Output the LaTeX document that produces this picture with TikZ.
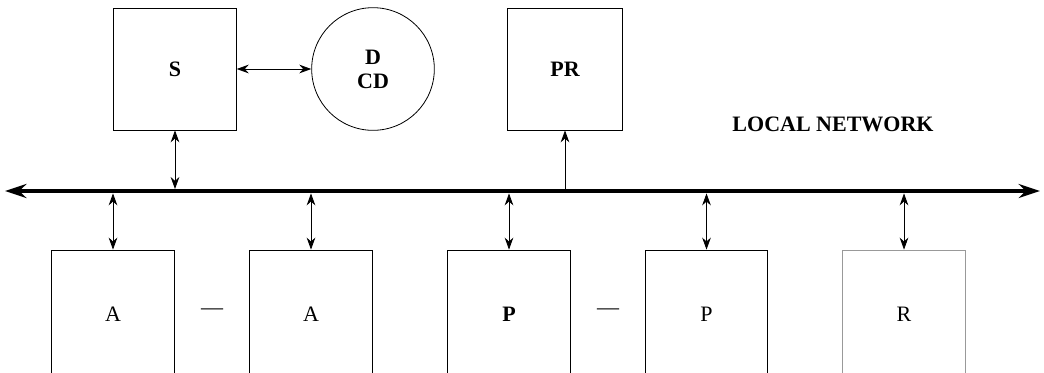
\documentclass[tikz,border=0pt]{standalone}
\usepackage{fontspec}
\setmainfont{Liberation Serif}
\usetikzlibrary{arrows.meta}
\begin{document}
\begin{tikzpicture}[x=0.75pt,y=-0.75pt,
  lbl/.style={font=\fontsize{16.5}{19}\selectfont},
  blbl/.style={font=\fontsize{16.5}{19}\selectfont\bfseries},
  box/.style={draw, line width=0.6pt, inner sep=0pt, minimum width=92pt, minimum height=91.5pt, lbl},
  bbox/.style={draw, line width=0.6pt, inner sep=0pt, minimum width=92pt, minimum height=96pt, lbl},
  dbl/.style={line width=0.6pt, {Stealth[length=9pt,width=6.5pt]}-{Stealth[length=9pt,width=6.5pt]}},
  sgl/.style={line width=0.6pt, -{Stealth[length=9pt,width=6.5pt]}},
  bus/.style={line width=3.4pt, {Stealth[length=16pt,width=10.5pt]}-{Stealth[length=16pt,width=10.5pt]}}
]
\clip (0,0) rectangle (1044,372);
% top
\node[box, blbl] (S) at (175,69) {S};
\node[circle, draw, line width=0.6pt, minimum size=92pt, inner sep=0pt, align=center, blbl] (D) at (373,69) {D\\[-1pt]CD};
\node[box, minimum width=86pt, blbl] (PR) at (565,69) {PR};
\node[blbl] (LN) at (833,124) {LOCAL NETWORK};
% bus
\coordinate (bl) at (5,191);
\coordinate (br) at (1040,191);
\draw[bus] (bl) -- (br);
% bottom boxes (bottom edge lies below the picture)
\node[bbox] (A1) at (113,314) {A};
\node[bbox] (A2) at (311,314) {A};
\node[bbox, blbl] (P1) at (509,314) {P};
\node[bbox] (P2) at (706.5,314) {P};
\node[bbox, draw=black!40] (R) at (904,314) {R};
\node[lbl] (d1) at (212,312) {---};
\node[lbl] (d2) at (608,312) {---};
% connectors
\draw[dbl] (S.east) -- (D.west);
\draw[dbl, shorten >=1.5pt] (S.south) -- (S.south |- bl);
\draw[sgl, shorten <=1.5pt] (PR.south |- bl) -- (PR.south);
\foreach \n in {A1,A2,P1,P2,R}
  \draw[dbl, shorten <=1.8pt] (\n.north |- bl) -- (\n.north);
\end{tikzpicture}
\end{document}
